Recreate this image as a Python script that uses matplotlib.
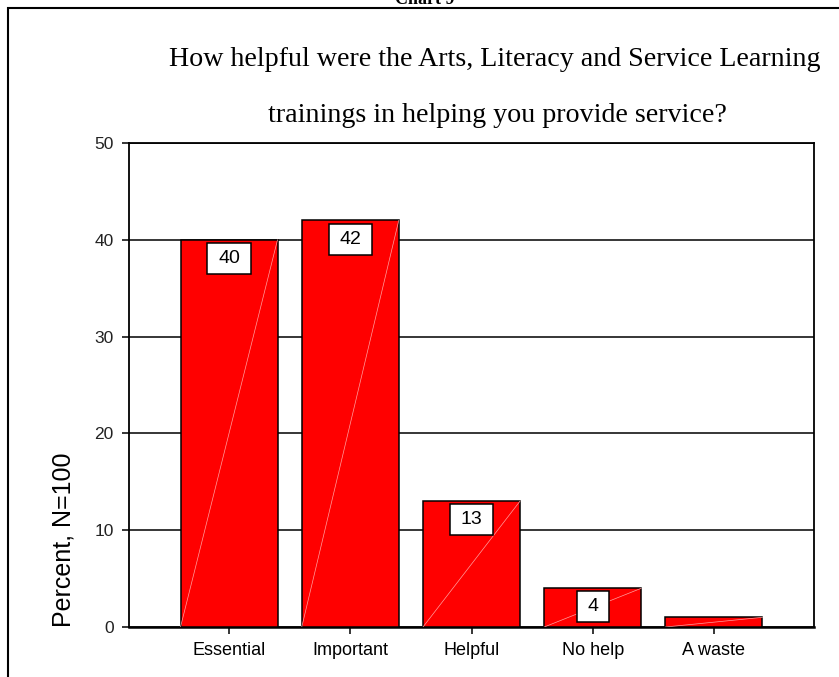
#!/usr/bin/env python3
# -*- coding: utf-8 -*-
"""
Chart 9 - helpfulness of the trainings, bar chart
"""

import matplotlib
matplotlib.use('Agg')
import matplotlib.pyplot as plt
from matplotlib.patches import Rectangle
from matplotlib.path import Path
import numpy as np

plt.rcParams['font.family'] = ['Liberation Sans', 'DejaVu Sans']

# data
categories = ['Essential', 'Important', 'Helpful', 'No help', 'A waste']
percents = [40, 42, 13, 4, 1]
bar_labels = ['40', '42', '13', '4', None]   # the last bar has no label box
y_ticks = [0, 10, 20, 30, 40, 50]

title_lines = ['How helpful were the Arts, Literacy and Service Learning',
               'trainings in helping you provide service?']
chart_name = 'Chart 9'
y_label = 'Percent, N=100'

W, H = 839, 677


def px_x(x):
    return x / W


def px_y(y):
    # pixel from top -> figure fraction
    return 1 - y / H


def wide_box(x0, y0, width, height, mutation_size):
    """
    rectangle box with more padding left/right than top/bottom
    """
    pad_x = 0.55 * mutation_size
    pad_y = 0.36 * mutation_size
    x0, y0 = x0 - pad_x, y0 - pad_y
    x1, y1 = x0 + width + 2 * pad_x, y0 + height + 2 * pad_y
    return Path([(x0, y0), (x1, y0), (x1, y1), (x0, y1), (x0, y0)],
                closed=True)


def plot_bars(ax, width=0.8):
    """
    draw bars, the faint diagonal and the boxed value labels
    """
    x = np.arange(len(categories))

    ax.bar(x, percents, width=width, color='#ff0000', edgecolor='black',
           linewidth=1.1, zorder=3)

    # faint diagonal line inside each bar (bottom-left -> top-right)
    for i, v in enumerate(percents):
        ax.plot([x[i] - width / 2, x[i] + width / 2], [0, v],
                color='#ffa0a0', linewidth=0.5, zorder=4)

    # value labels in white boxes just under the bar top
    for i, lab in enumerate(bar_labels):
        if lab is None:
            continue
        ax.annotate(lab, xy=(x[i], percents[i]),
                    xytext=(0, -7.3), textcoords='offset points',
                    ha='center', va='top', fontsize=14, color='black',
                    bbox=dict(boxstyle=wide_box, facecolor='white',
                              edgecolor='black', linewidth=1.1),
                    zorder=5)

    ax.set_xlim(-0.825, len(categories) - 1 + 0.825)
    ax.set_xticks(x)
    ax.set_xticklabels(categories, fontsize=13)

    ax.set_ylim(0, 50)
    ax.set_yticks(y_ticks)
    ax.set_yticklabels([str(t) for t in y_ticks], fontsize=12.5)

    # horizontal grid lines
    ax.grid(True, axis='y', color='black', linewidth=1.1, zorder=1)
    ax.set_axisbelow(True)

    ax.tick_params(axis='both', direction='out', length=5, width=1.1,
                   colors='black', pad=6)
    ax.tick_params(axis='y', labelcolor='#222222')

    for side in ['left', 'right', 'top']:
        ax.spines[side].set_linewidth(1.3)
    ax.spines['bottom'].set_linewidth(1.8)


def main():
    fig = plt.figure(figsize=(W / 100, H / 100), dpi=100)
    fig.patch.set_facecolor('white')

    ax = fig.add_axes([px_x(129), px_y(627), px_x(814 - 129), (627 - 143) / H])
    plot_bars(ax)

    # y label, placed low next to the axis
    fig.text(px_x(64), px_y(540), y_label, rotation=90, ha='center',
             va='center', fontsize=18)

    # two line serif title
    fig.text(px_x(495), px_y(60), title_lines[0], ha='center', va='center',
             fontsize=20.2, family=['Liberation Serif', 'DejaVu Serif'])
    fig.text(px_x(497), px_y(115), title_lines[1], ha='center', va='center',
             fontsize=20.2, family=['Liberation Serif', 'DejaVu Serif'])

    # cut off chart name at the very top
    fig.text(px_x(425), px_y(4), chart_name, ha='center', va='baseline',
             fontsize=13, fontweight='bold',
             family=['Liberation Serif', 'DejaVu Serif'])

    # frame around the chart (runs off the right and bottom edge)
    frame = Rectangle((px_x(8), -0.2), 1.5, px_y(8) + 0.2,
                      transform=fig.transFigure, fill=False,
                      edgecolor='black', linewidth=1.5)
    fig.patches.append(frame)

    fig.savefig('out.png', dpi=100)
    plt.close(fig)


if __name__ == '__main__':
    main()
